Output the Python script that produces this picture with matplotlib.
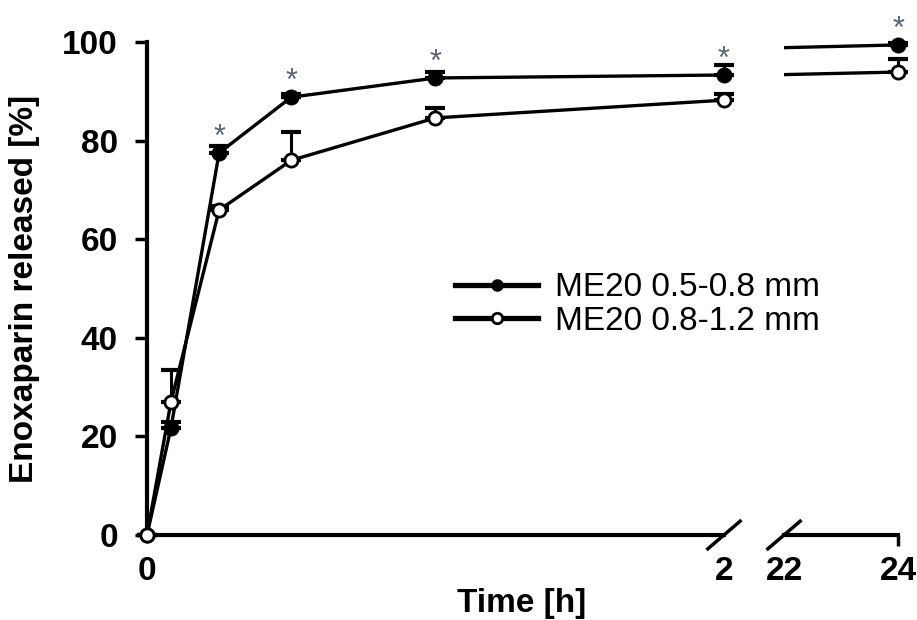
# Enoxaparin release from ME20 pellets, two size fractions, with a broken time axis

import matplotlib.pyplot as plt
from matplotlib.lines import Line2D

plt.rcParams['font.family'] = ['Liberation Sans', 'DejaVu Sans']

tiempo = [0, 0.083, 0.25, 0.5, 1, 2, 24]
fino = [0, 21.7, 77.5, 88.8, 92.7, 93.3, 99.4]
fino_err = [0, 1.2, 1.3, 0.7, 1.2, 2.0, 0.3]
grueso = [0, 27, 65.9, 76, 84.6, 88.2, 93.9]
grueso_err = [0, 6.5, 0.8, 5.7, 2.0, 1.2, 2.6]
significativo = [False, False, True, True, True, True, True]
etiquetas = ['ME20 0.5-0.8 mm', 'ME20 0.8-1.2 mm']

fs = 24
fig = plt.figure(figsize=(9.17, 6.2), dpi=100)
ax1 = fig.add_axes([0.1603, 0.1371, 0.6292, 0.7952])
ax2 = fig.add_axes([0.8550, 0.1371, 0.1243, 0.7952])


def dibujar(ax, x0, x1):
    ax.set_xlim(x0, x1)
    ax.set_ylim(0, 100)
    # lineas (recortadas por los ejes)
    ax.plot(tiempo, fino, color='black', lw=2.4, zorder=2)
    ax.plot(tiempo, grueso, color='black', lw=2.4, zorder=2)
    dentro = [i for i, t in enumerate(tiempo) if x0 <= t <= x1]
    xs = [tiempo[i] for i in dentro]
    for serie, err, cara in [(fino, fino_err, 'black'), (grueso, grueso_err, 'white')]:
        ys = [serie[i] for i in dentro]
        es = [err[i] for i in dentro]
        ax.errorbar(xs, ys, yerr=[[0] * len(es), es], fmt='none', ecolor='black',
                    elinewidth=2.2, capsize=7.5, capthick=3, clip_on=False, zorder=3)
        ax.plot(xs, ys, 'o', ms=9.5, mfc=cara, mec='black', mew=2, clip_on=False, zorder=4)
    for i in dentro:
        if significativo[i]:
            ax.annotate('*', (tiempo[i], fino[i]), xytext=(0, 5), textcoords='offset points',
                        ha='center', va='baseline', fontsize=22, color='#5a6478',
                        annotation_clip=False)


dibujar(ax1, 0, 2)
dibujar(ax2, 22, 24)

# ejes
for lado in ['top', 'right']:
    ax1.spines[lado].set_visible(False)
for lado in ['top', 'right', 'left']:
    ax2.spines[lado].set_visible(False)
for ax in (ax1, ax2):
    ax.spines['bottom'].set_linewidth(3)
ax1.spines['left'].set_linewidth(3)
ax2.yaxis.set_visible(False)
ax2.patch.set_visible(False)

ax1.set_yticks([0, 20, 40, 60, 80, 100])
ax1.tick_params(axis='y', direction='out', length=9, width=2.5, pad=12, labelsize=fs)
ax1.set_xticks([0, 2])
ax1.tick_params(axis='x', length=0, pad=15, labelsize=fs)
ax2.set_xticks([22, 24])
ax2.tick_params(axis='x', direction='out', length=8, width=2.5, pad=7, labelsize=fs)
ax2.xaxis.get_major_ticks()[0].tick1line.set_visible(False)
for ax in (ax1, ax2):
    for lab in ax.get_xticklabels() + ax.get_yticklabels():
        lab.set_fontweight('bold')

# marcas de corte del eje
dx, dy = 0.028, 0.028
ax1.plot([1 - dx, 1 + dx], [-dy, dy], transform=ax1.transAxes, color='black', lw=2.5, clip_on=False)
dx2 = dx * 0.6292 / 0.1243
ax2.plot([-dx2, dx2], [-dy, dy], transform=ax2.transAxes, color='black', lw=2.5, clip_on=False)

ax1.set_ylabel('Enoxaparin released [%]', fontsize=fs, fontweight='bold')
ax1.yaxis.set_label_coords(-0.185, 0.5)
fig.text(522 / 917, 0.026, 'Time [h]', ha='center', va='center', fontsize=fs, fontweight='bold')

manijas = [Line2D([], [], color='black', lw=3.8, marker='o', ms=8, mfc='black', mec='black'),
           Line2D([], [], color='black', lw=3.8, marker='o', ms=7.5, mfc='white', mec='black', mew=2)]
fig.legend(manijas, etiquetas, loc='center left', bbox_to_anchor=(455 / 917, 1 - 304.5 / 620),
           frameon=False, fontsize=fs, borderpad=0, borderaxespad=0, handlelength=2.5,
           handletextpad=0.5, labelspacing=0.08)

fig.savefig('out.png', dpi=100)
